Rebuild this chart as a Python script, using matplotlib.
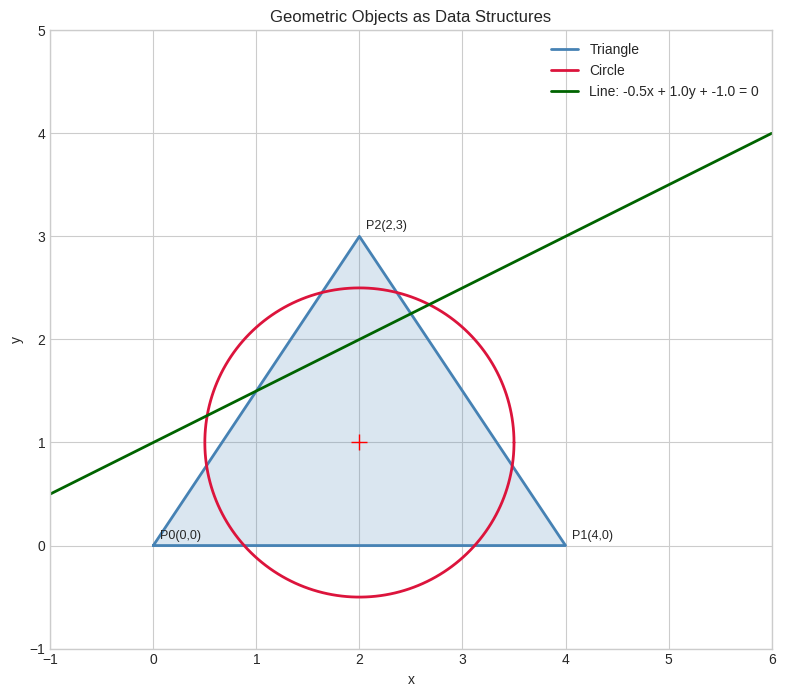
import matplotlib
matplotlib.use("Agg")
import matplotlib.pyplot as plt
import numpy as np

tri_x = [0, 4, 2]
tri_y = [0, 0, 3]
tri_labels = ["P0(0,0)", "P1(4,0)", "P2(2,3)"]
circle_center = (2, 1)
circle_radius = 1.5
line_abc = (-0.5, 1.0, -1.0)
xlim = (-1, 6)
ylim = (-1, 5)

plt.style.use("seaborn-v0_8-whitegrid")
fig, ax = plt.subplots(figsize=(7.85, 6.97), dpi=100)

ax.fill(tri_x, tri_y, color="steelblue", alpha=0.2)
ax.plot(tri_x + [tri_x[0]], tri_y + [tri_y[0]], color="steelblue", lw=2, label="Triangle")
for x, y, t in zip(tri_x, tri_y, tri_labels):
    ax.annotate(t, (x, y), xytext=(5, 5), textcoords="offset points", fontsize=9)

th = np.linspace(0, 2 * np.pi, 400)
ax.plot(circle_center[0] + circle_radius * np.cos(th), circle_center[1] + circle_radius * np.sin(th),
        color="crimson", lw=2, label="Circle")
ax.plot(circle_center[0], circle_center[1], "r+", markersize=12)

a, b, c = line_abc
xs = np.array(xlim, dtype=float)
ax.plot(xs, -(a * xs + c) / b, color="darkgreen", lw=2,
        label=f"Line: {a}x + {b}y + {c} = 0")

ax.set_xlim(*xlim)
ax.set_ylim(*ylim)
ax.set_aspect("equal")
ax.set_xlabel("x")
ax.set_ylabel("y")
ax.set_title("Geometric Objects as Data Structures")
ax.legend(loc="upper right")
for s in ax.spines.values():
    s.set_visible(True)
    s.set_color("#cccccc")
fig.subplots_adjust(left=0.064, right=0.983, top=0.957, bottom=0.069)
fig.savefig("out.png", dpi=100)
